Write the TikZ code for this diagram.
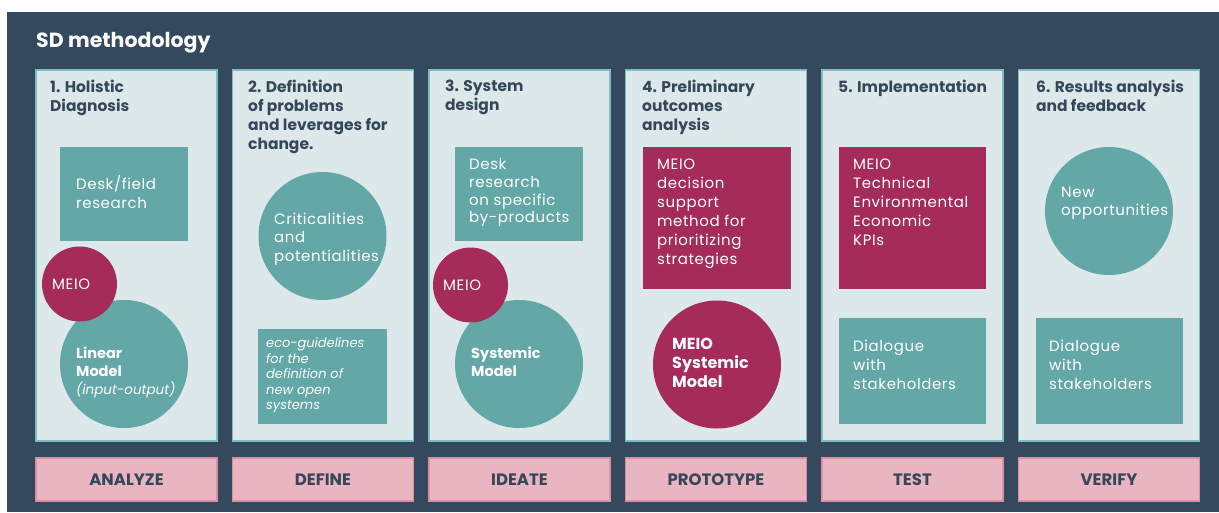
\documentclass[tikz,border=0pt]{standalone}
\usepackage{fontspec}
\setmainfont{Poppins}
\newfontfamily\bodyfont{Poppins}[LetterSpace=4]
\definecolor{bgdark}{HTML}{34495E}
\definecolor{panelfill}{HTML}{DCE8EA}
\definecolor{panelline}{HTML}{7DBDBB}
\definecolor{tealc}{HTML}{63A7A7}
\definecolor{crim}{HTML}{A52B59}
\definecolor{pinkf}{HTML}{E8B5C1}
\definecolor{pinkl}{HTML}{D890A3}
\definecolor{darktxt}{HTML}{354759}
\begin{document}
\begin{tikzpicture}[x=1pt,y=-1pt,
  panel/.style={draw=panelline, fill=panelfill, line width=1.5pt},
  phase/.style={draw=pinkl, fill=pinkf, line width=1.2pt, minimum width=181pt, minimum height=43pt, inner sep=0pt,
     font=\fontsize{16.5}{18}\selectfont\bfseries, text=darktxt},
  ptitle/.style={anchor=north west, inner sep=0pt, align=left, text=darktxt,
     font=\fontsize{15.5}{19}\selectfont\bfseries},
  wtxt/.style={anchor=north west, inner sep=0pt, align=left, text=white,
     font=\bodyfont\fontsize{15}{18.5}\selectfont},
  wsmall/.style={anchor=north west, inner sep=0pt, align=left, text=white,
     font=\fontsize{13}{15.5}\selectfont\itshape},
]
\useasboundingbox (0,0) rectangle (1219,512);
\fill[white] (0,0) rectangle (1219,512);
\fill[bgdark] (7,12) rectangle (1219,512);
\node[anchor=west, inner sep=0pt, text=white, font=\fontsize{20.5}{24}\selectfont\bfseries] (title) at (36,43) {SD methodology};

% panels
\foreach \i/\lab in {0/ANALYZE,1/DEFINE,2/IDEATE,3/PROTOTYPE,4/TEST,5/VERIFY}{
  \pgfmathsetmacro{\xl}{36+196.5*\i}
  \draw[panel] (\xl,70) rectangle ++(181,371);
  \node[phase] (ph\i) at (\xl+90.5,479.5) {\lab};
}

% Panel 1
\node[ptitle] (t1) at (50,79.5) {1. Holistic\\Diagnosis};
\fill[tealc] (60,147) rectangle (188,241);
\node[wtxt] (n1a) at (76,175.5) {Desk/field\\research};
\fill[tealc] (124,364) circle (64);
\fill[crim] (79.5,284) circle (37.5);
\node[wtxt, anchor=west] (n1b) at (52,284) {MEIO};
\node[anchor=north west, inner sep=0pt, align=left, text=white, font=\fontsize{14.5}{18}\selectfont] (n1c) at (76,347) {\bfseries Linear\\\bfseries Model\\\fontsize{13.5}{18}\selectfont\itshape (input-output)};

% Panel 2
\node[ptitle] (t2) at (248,79.5) {2. Definition\\of problems\\and leverages for\\change.};
\fill[tealc] (322.5,236) circle (64);
\node[wtxt] (n2a) at (274,212.5) {Criticalities\\and\\potentialities};
\fill[tealc] (258,329) rectangle (387,424);
\node[wsmall] (n2b) at (266,337.5) {eco-guidelines\\for the\\definition of\\new open\\systems};

% Panel 3
\node[ptitle] (t3) at (445,79.5) {3. System\\design};
\fill[tealc] (455,147) rectangle (583,241);
\node[wtxt, font=\bodyfont\fontsize{15}{17.7}\selectfont] (n3a) at (469,158.5) {Desk\\research\\on specific\\by-products};
\fill[tealc] (519,364) circle (64);
\fill[crim] (470.5,285) circle (37.5);
\node[wtxt, anchor=west] (n3b) at (443,285) {MEIO};
\node[anchor=north west, inner sep=0pt, align=left, text=white, font=\fontsize{14.5}{18}\selectfont\bfseries] (n3c) at (471,347) {Systemic\\Model};

% Panel 4
\node[ptitle] (t4) at (642,79.5) {4. Preliminary\\outcomes\\analysis};
\fill[crim] (643,147) rectangle (791,289);
\node[wtxt, font=\bodyfont\fontsize{15}{19}\selectfont] (n4a) at (657,158.5) {MEIO\\decision\\support\\method for\\prioritizing\\strategies};
\fill[crim] (717,364.5) circle (64);
\node[anchor=north west, inner sep=0pt, align=left, text=white, font=\fontsize{16}{19}\selectfont\bfseries] (n4b) at (672,337.5) {MEIO\\Systemic\\Model};

% Panel 5
\node[ptitle] (t5) at (838,79.5) {5. Implementation};
\fill[crim] (839,147) rectangle (986,289);
\node[wtxt, font=\bodyfont\fontsize{15}{19}\selectfont] (n5a) at (853,158.5) {MEIO\\Technical\\Environmental\\Economic\\KPIs};
\fill[tealc] (839,318) rectangle (986,424);
\node[wtxt, font=\bodyfont\fontsize{15}{19}\selectfont] (n5b) at (853,339.5) {Dialogue\\with\\stakeholders};

% Panel 6
\node[ptitle] (t6) at (1036,79.5) {6. Results analysis\\and feedback};
\fill[tealc] (1109,211) circle (64);
\node[wtxt] (n6a) at (1061,186.5) {New\\opportunities};
\fill[tealc] (1036,318) rectangle (1183,424);
\node[wtxt, font=\bodyfont\fontsize{15}{19}\selectfont] (n6b) at (1049,339.5) {Dialogue\\with\\stakeholders};
\end{tikzpicture}
\end{document}
